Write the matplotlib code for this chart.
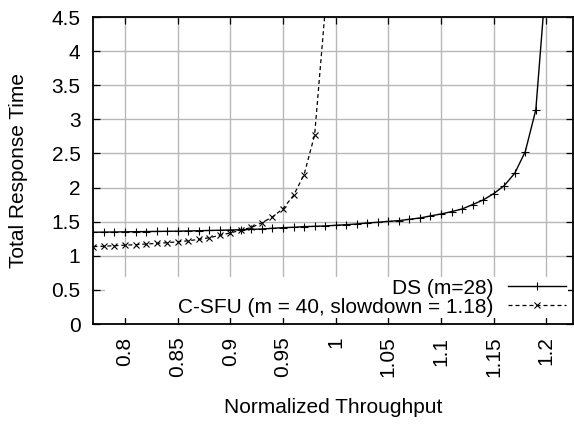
import matplotlib
matplotlib.use("Agg")
import matplotlib.pyplot as plt
from matplotlib.patches import Rectangle
import numpy as np

plt.rcParams['font.family'] = ['Liberation Sans', 'DejaVu Sans']
plt.rcParams['font.size'] = 15

# DS (m=28)
ds_x = [0.77, 0.78, 0.79, 0.80, 0.81, 0.82, 0.83, 0.84, 0.85, 0.86,
        0.87, 0.88, 0.89, 0.90, 0.91, 0.92, 0.93, 0.94, 0.95, 0.96,
        0.97, 0.98, 0.99, 1.00, 1.01, 1.02, 1.03, 1.04, 1.05, 1.06,
        1.07, 1.08, 1.09, 1.10, 1.11, 1.12, 1.13, 1.14, 1.15, 1.16,
        1.17, 1.18, 1.19, 1.20]
ds_y = [1.345, 1.347, 1.349, 1.351, 1.353, 1.355, 1.357, 1.359, 1.361, 1.364,
        1.367, 1.371, 1.374, 1.378, 1.382, 1.387, 1.393, 1.403, 1.412, 1.418,
        1.427, 1.432, 1.437, 1.447, 1.456, 1.466, 1.481, 1.491, 1.505, 1.515,
        1.535, 1.554, 1.584, 1.613, 1.647, 1.686, 1.750, 1.818, 1.911, 2.028,
        2.21, 2.527, 3.14, 5.1]

# C-SFU (m = 40, slowdown = 1.18)
cs_x = [0.77, 0.78, 0.79, 0.80, 0.81, 0.82, 0.83, 0.84, 0.85, 0.86,
        0.87, 0.88, 0.89, 0.90, 0.91, 0.92, 0.93, 0.94, 0.95, 0.96,
        0.97, 0.98, 0.99]
cs_y = [1.135, 1.14, 1.148, 1.155, 1.163, 1.172, 1.182, 1.192, 1.205, 1.22,
        1.24, 1.265, 1.30, 1.335, 1.375, 1.415, 1.485, 1.57, 1.69, 1.885,
        2.19, 2.77, 4.6]

xticks = [0.8, 0.85, 0.9, 0.95, 1.0, 1.05, 1.1, 1.15, 1.2]
xticklabels = ['0.8', '0.85', '0.9', '0.95', '1', '1.05', '1.1', '1.15', '1.2']
yticks = [0, 0.5, 1, 1.5, 2, 2.5, 3, 3.5, 4, 4.5]
yticklabels = ['0', '0.5', '1', '1.5', '2', '2.5', '3', '3.5', '4', '4.5']

fig = plt.figure(figsize=(5.74, 4.32), dpi=100)
ax = fig.add_axes([93/574, 108/432, 480/574, 307/432])

ax.grid(True, color='#b8b8b8', lw=1.0)
# opaque key area hides the grid underneath
ax.add_patch(Rectangle((0.025, 0.0195), 0.9646, 0.1335, transform=ax.transAxes,
                       facecolor='white', edgecolor='none', zorder=1.8))

ax.plot(ds_x, ds_y, color='black', lw=1.0, marker='+', ms=6, mew=0.8,
        label='DS (m=28)', zorder=3)
ax.plot(cs_x, cs_y, color='black', lw=0.9, ls=(0, (3.2, 2.4)), marker='x', ms=4.8, mew=0.8,
        label='C-SFU (m = 40, slowdown = 1.18)', zorder=3)

ax.set_xlim(0.7696, 1.2253)
ax.set_ylim(0, 4.5)
ax.set_xticks(xticks)
ax.set_xticklabels(xticklabels, rotation=90)
ax.set_yticks(yticks)
ax.set_yticklabels(yticklabels)
ax.tick_params(direction='in', top=True, right=True, length=5, width=0.9)
ax.tick_params(axis='x', pad=9)
ax.tick_params(axis='y', pad=9)
for s in ax.spines.values():
    s.set_linewidth(1.3)

ax.set_xlabel('Normalized Throughput')
ax.set_ylabel('Total Response Time')
ax.xaxis.set_label_coords(0.5, -0.24)
ax.yaxis.set_label_coords(-0.135, 0.5)

leg = ax.legend(loc='lower right', markerfirst=False, frameon=False, numpoints=1,
                handlelength=2.75, handletextpad=0.72, labelspacing=0.0,
                borderpad=0.3, borderaxespad=0.05)
leg.set_zorder(4)

fig.savefig('out.png', dpi=100)
